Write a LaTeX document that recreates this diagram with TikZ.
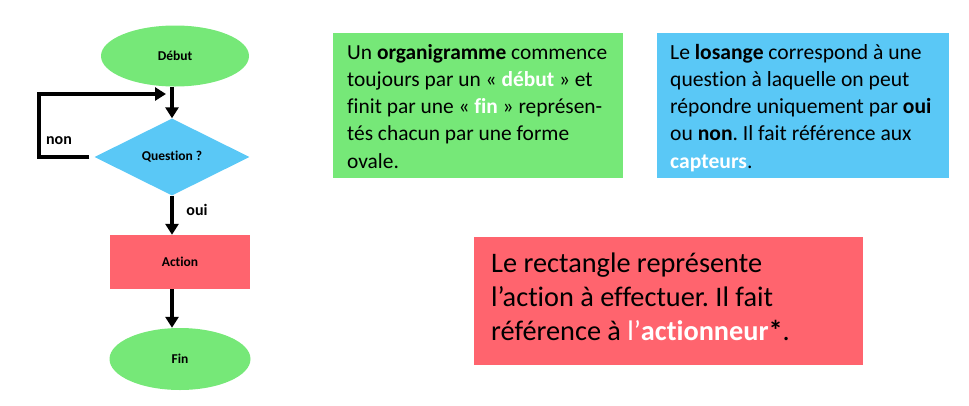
\documentclass[tikz,border=0pt]{standalone}
\usepackage{fontspec}
\setmainfont[Ligatures=NoCommon]{Carlito}
\usetikzlibrary{shapes.geometric,arrows.meta}
\frenchspacing
\definecolor{vert}{HTML}{76E878}
\definecolor{bleu}{HTML}{5AC8F6}
\definecolor{rouge}{HTML}{FF646E}
\tikzset{
  flowtxt/.style={font=\fontsize{13.5}{16}\selectfont\bfseries, inner sep=0pt},
  ovalbox/.style={ellipse, fill=vert, flowtxt},
  arr/.style={line width=3.5pt, -{Triangle[length=11pt,width=13pt]}},
  lbl/.style={font=\fontsize{16}{19}\selectfont\bfseries, inner sep=0pt},
  expl/.style={anchor=base west, align=left, inner sep=0pt},
}
\begin{document}
\begin{tikzpicture}[x=1pt,y=-1pt]
\useasboundingbox (0,0) rectangle (969,405);
% flowchart
\node[ovalbox, minimum width=148pt, minimum height=61pt] (debut) at (175,56) {Début};
\node[diamond, fill=bleu, flowtxt, minimum width=155pt, minimum height=77pt] (q) at (172,157) {Question ?};
\node[rectangle, fill=rouge, flowtxt, minimum width=140pt, minimum height=54pt] (act) at (180,262) {Action};
\node[ovalbox, minimum width=141pt, minimum height=62pt] (fin) at (180,359) {Fin};
\coordinate (loopc) at (39,94);
\coordinate (j) at (166,94);
\draw[arr] (debut.south -| q.north) -- (q.north);
\draw[arr] ([xshift=-5pt]q.west) -- (q.west -| loopc) -- (loopc) -- (j);
\draw[arr] (q.south) -- (q.south |- act.north);
\draw[arr] (act.south -| q.south) -- (q.south |- fin.north);
\node[lbl] (non) at (59,141) {non};
\node[lbl] (oui) at (197,210) {oui};
% explanation boxes
\node[fill=vert, minimum width=290pt, minimum height=145pt, inner sep=0pt] (gbox) at (478,105.5) {};
\node[expl, font=\fontsize{21.4}{27.3}\selectfont] (gtxt) at (347,168.2) {Un \textbf{organigramme} commence\\toujours par un « \textcolor{white}{\textbf{début}} » et\\finit par une « \textcolor{white}{\textbf{fin}} » représen-\\tés chacun par une forme\\ovale.};
\node[fill=bleu, minimum width=292pt, minimum height=145pt, inner sep=0pt] (bbox) at (803,105.5) {};
\node[expl, font=\fontsize{21.6}{27.3}\selectfont] (btxt) at (670,168.2) {Le \textbf{losange} correspond à une\\question à laquelle on peut\\répondre uniquement par \textbf{oui}\\ou \textbf{non}. Il fait référence aux\\\textcolor{white}{\textbf{capteurs}}.};
\node[fill=rouge, minimum width=389pt, minimum height=128pt, inner sep=0pt] (rbox) at (668.5,301) {};
\node[expl, font=\fontsize{28.3}{34}\selectfont] (rtxt) at (491,340) {Le rectangle représente\\l’action à effectuer. Il fait\\référence à \textcolor{white}{l’\textbf{actionneur}}\textbf{*}.};
\end{tikzpicture}
\end{document}
